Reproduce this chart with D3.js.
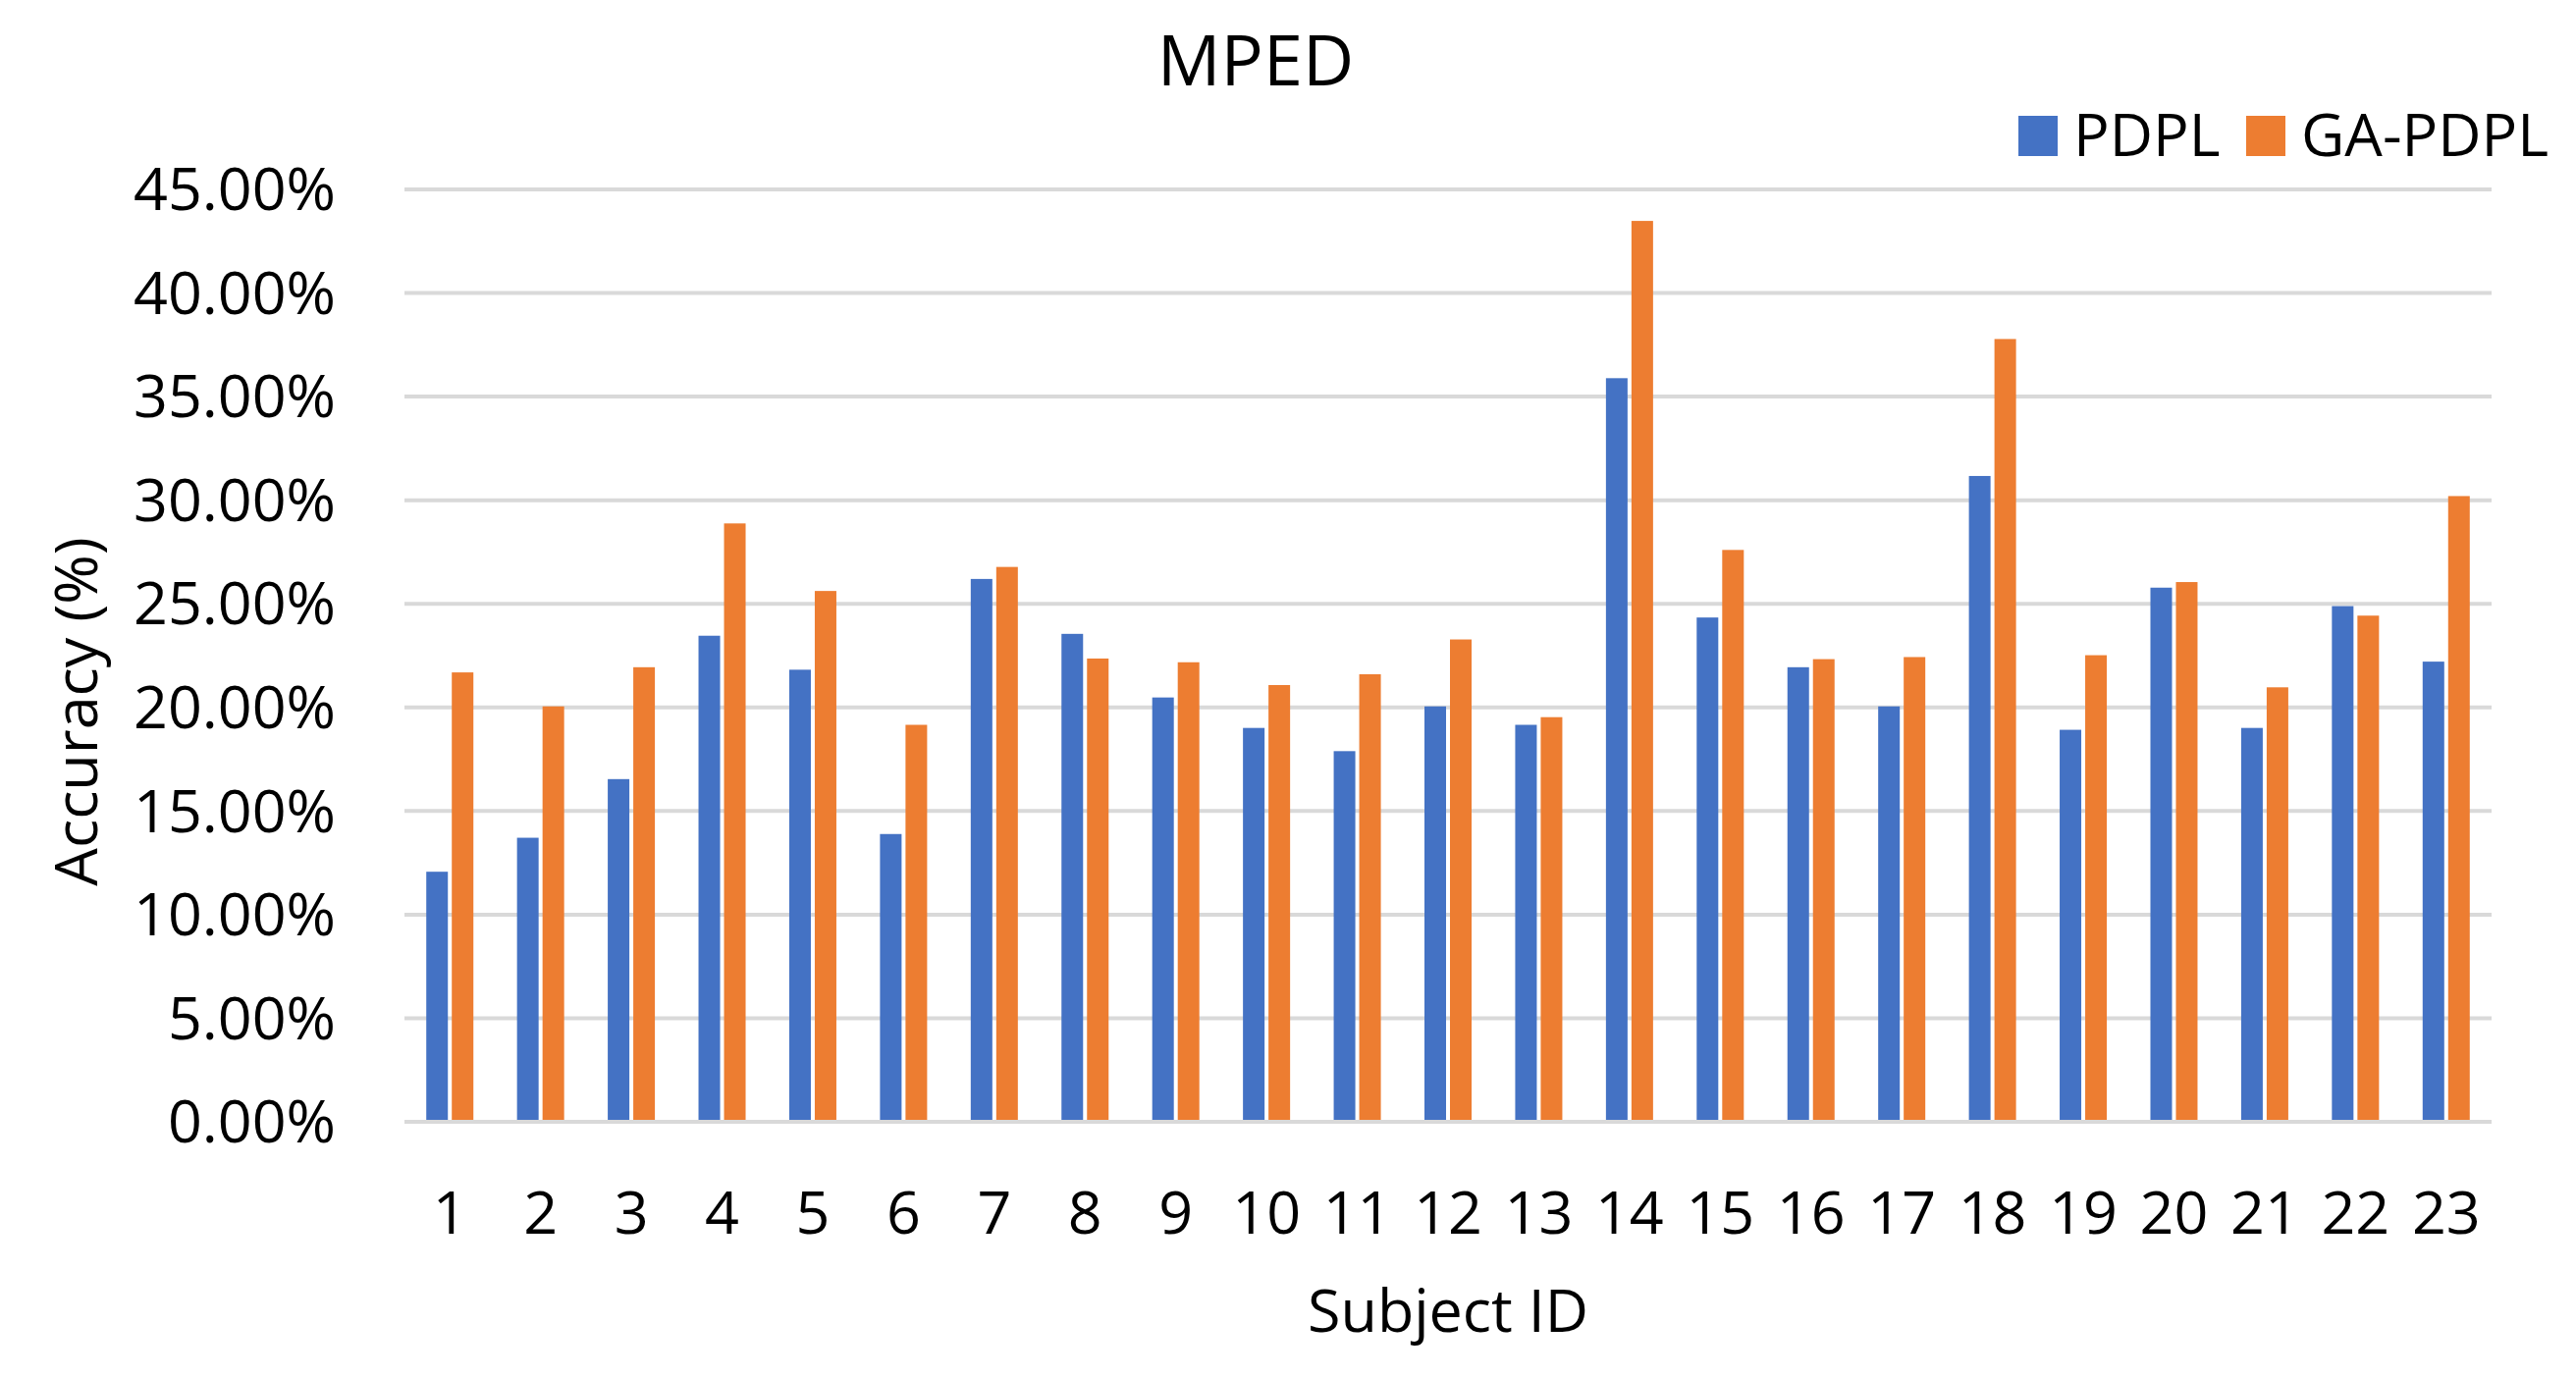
<!DOCTYPE html>
<html>
<head>
<meta charset="utf-8">
<script src="https://cdn.jsdelivr.net/npm/d3@7"></script>
<style>
  html, body { margin: 0; padding: 0; background: #ffffff; }
  svg { display: block; font-family: "Open Sans", "Noto Sans", sans-serif; }
</style>
</head>
<body>
<svg id="chart" width="2624" height="1403"></svg>
<script>
const subjects = ["1","2","3","4","5","6","7","8","9","10","11","12","13","14","15","16","17","18","19","20","21","22","23"];
const seriesNames = ["PDPL", "GA-PDPL"];
const pdplValues = [12.07, 13.71, 16.54, 23.46, 21.82, 13.89, 26.20, 23.55, 20.48, 19.01, 17.89, 20.05, 19.16, 35.89, 24.34, 21.94, 20.05, 31.17, 18.92, 25.78, 19.01, 24.89, 22.21];
const gaPdplValues = [21.69, 20.05, 21.94, 28.88, 25.62, 19.16, 26.78, 22.36, 22.18, 21.08, 21.60, 23.28, 19.53, 43.48, 27.60, 22.33, 22.43, 37.78, 22.52, 26.05, 20.97, 24.43, 30.20];
const yTickValues = [0, 5, 10, 15, 20, 25, 30, 35, 40, 45];
const colors = ["#4472C4", "#ED7D31"];
const titleText = "MPED";
const xTitle = "Subject ID";
const yTitle = "Accuracy (%)";

(function () {
const rows = subjects.map((s, i) => ({ subject: s, values: [pdplValues[i], gaPdplValues[i]] }));

const svg = d3.select("#chart");
const plotLeft = 412, plotRight = 2538, plotTop = 193, plotBottom = 1143;

const x0 = d3.scaleBand().domain(subjects).range([plotLeft, plotRight]).paddingInner(0).paddingOuter(0);
const cw = x0.bandwidth();
const x1 = d3.scaleBand().domain(seriesNames).range([cw / 2 - 24, cw / 2 + 24]).paddingInner(4 / 26).paddingOuter(0);
const y = d3.scaleLinear().domain([0, 45]).range([plotBottom, plotTop]);
const color = d3.scaleOrdinal().domain(seriesNames).range(colors);

// gridlines
svg.append("g").selectAll("line").data(yTickValues).join("line")
  .attr("x1", plotLeft).attr("x2", plotRight)
  .attr("y1", d => y(d)).attr("y2", d => y(d))
  .attr("stroke", "#D9D9D9").attr("stroke-width", 4);

// bars
const groups = svg.append("g").selectAll("g").data(rows).join("g")
  .attr("transform", d => `translate(${x0(d.subject)},0)`);
groups.selectAll("rect").data(d => d.values.map((v, k) => ({ key: seriesNames[k], v })))
  .join("rect")
  .attr("x", d => x1(d.key))
  .attr("width", x1.bandwidth())
  .attr("y", d => y(d.v))
  .attr("height", d => y(0) - y(d.v) - 2)
  .attr("fill", d => color(d.key));

// y axis labels
const yAxis = d3.axisLeft(y).tickValues(yTickValues).tickSize(0).tickPadding(70)
  .tickFormat(d => d3.format(".2%")(d / 100));
const gy = svg.append("g").attr("transform", `translate(${plotLeft},0)`).call(yAxis);
gy.select(".domain").remove();
gy.selectAll("text").attr("font-size", 61).attr("font-family", "Open Sans").attr("fill", "#000").attr("dy", "0.34em");

// x axis labels
const xAxis = d3.axisBottom(x0).tickSize(0);
const gx = svg.append("g").attr("transform", `translate(0,${plotBottom})`).call(xAxis);
gx.select(".domain").remove();
gx.selectAll("text").attr("font-size", 61).attr("font-family", "Open Sans").attr("fill", "#000")
  .attr("y", 114).attr("dy", null);

// title
svg.append("text").attr("x", 1279).attr("y", 87).attr("text-anchor", "middle")
  .attr("font-size", 72).attr("fill", "#000").text(titleText);

// axis titles
svg.append("text").attr("x", (plotLeft + plotRight) / 2).attr("y", 1357).attr("text-anchor", "middle")
  .attr("font-size", 61).attr("fill", "#000").text(xTitle);
svg.append("text").attr("transform", "translate(99,725) rotate(-90)").attr("text-anchor", "middle")
  .attr("font-size", 61).attr("fill", "#000").text(yTitle);

// legend
const legendX = [2056, 2288];
const lg = svg.append("g").selectAll("g").data(seriesNames).join("g")
  .attr("transform", (d, i) => `translate(${legendX[i]},118)`);
lg.append("rect").attr("width", 40).attr("height", 41).attr("fill", d => color(d));
lg.append("text").attr("x", 56).attr("y", 41).attr("font-size", 61).attr("fill", "#000").text(d => d);
})();
</script>
</body>
</html>
